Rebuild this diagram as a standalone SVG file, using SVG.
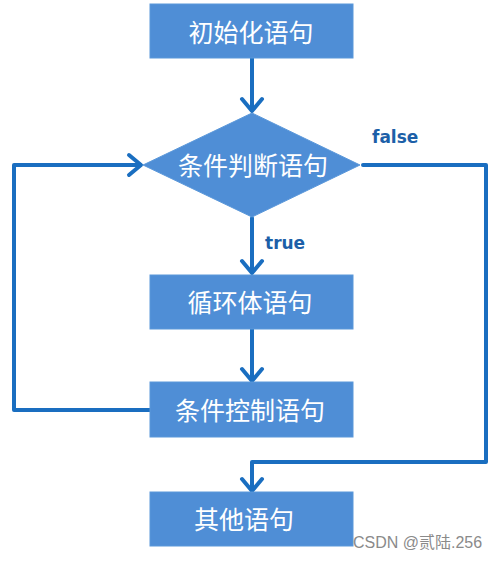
<svg xmlns="http://www.w3.org/2000/svg" width="500" height="562" viewBox="0 0 500 562">
<style>
.box{fill:#4f8ed6;stroke:#5b98da;stroke-width:1}
.lbl{font-family:"Noto Sans CJK SC","Microsoft YaHei",sans-serif;font-size:25px;fill:#ffffff;text-anchor:middle;dominant-baseline:central}
.con{fill:none;stroke:#1a6ec0;stroke-width:4;stroke-linejoin:round;stroke-linecap:round}
.tf{font-family:"DejaVu Sans","Liberation Sans",sans-serif;font-weight:bold;font-size:17px;fill:#1c5fa8}
.wm{font-family:"Liberation Sans","Noto Sans CJK SC",sans-serif;font-size:16px;fill:#8a8a8a}
</style>
<rect width="500" height="562" fill="#ffffff"/>
<g id="connectors">
<path class="con" d="M252 58 V110"/>
<path class="con" d="M242 99 L252 111 L262 99"/>
<path class="con" d="M252 218 V270"/>
<path class="con" d="M242 261 L252 273 L262 261"/>
<path class="con" d="M252 329 V380"/>
<path class="con" d="M242 369 L252 381 L262 369"/>
<path class="con" d="M150 410 H14 V165 H140"/>
<path class="con" d="M129 155 L141 165 L129 175"/>
<path class="con" d="M363 165 H486 V462 H252 V490"/>
<path class="con" d="M242 479 L252 491 L262 479"/>
<text class="tf" x="372" y="143">false</text>
<text class="tf" x="265" y="249">true</text>
</g>
<g id="init">
<rect class="box" x="150" y="4" width="203" height="54"/>
<text class="lbl" x="251" y="31">初始化语句</text>
</g>
<g id="cond">
<polygon class="box" points="252,113 360,165 252,217 143,165"/>
<text class="lbl" x="253" y="164">条件判断语句</text>
</g>
<g id="body">
<rect class="box" x="150" y="275" width="203" height="54"/>
<text class="lbl" x="250" y="301">循环体语句</text>
</g>
<g id="ctrl">
<rect class="box" x="150" y="382" width="203" height="55"/>
<text class="lbl" x="250" y="409">条件控制语句</text>
</g>
<g id="other">
<rect class="box" x="150" y="492" width="203" height="54"/>
<text class="lbl" x="244" y="518">其他语句</text>
</g>
<text class="wm" x="353" y="548">CSDN @贰陆.256</text>
</svg>
